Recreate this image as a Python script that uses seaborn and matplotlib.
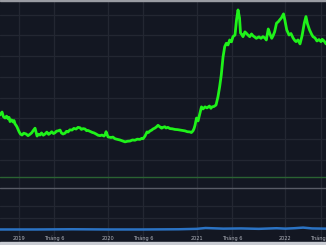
import matplotlib
matplotlib.use("Agg")
import matplotlib.pyplot as plt
from matplotlib.patches import Rectangle
import seaborn as sns
import pandas as pd

# ---- data (decimal years, price in arbitrary units) ----
price_t = [2018.782, 2018.805, 2018.820, 2018.839, 2018.856, 2018.873, 2018.885, 2018.895, 2018.912,
           2018.929, 2018.940, 2018.952, 2018.963, 2018.974, 2018.997, 2019.012, 2019.030, 2019.050,
           2019.076, 2019.098, 2019.121, 2019.140, 2019.154, 2019.177, 2019.200, 2019.215, 2019.233,
           2019.250, 2019.270, 2019.290, 2019.310, 2019.330, 2019.346, 2019.365, 2019.385, 2019.402,
           2019.420, 2019.436, 2019.459, 2019.475, 2019.493, 2019.515, 2019.532, 2019.549, 2019.570,
           2019.594, 2019.615, 2019.640, 2019.662, 2019.685, 2019.700, 2019.719, 2019.741, 2019.758,
           2019.775, 2019.800, 2019.820, 2019.843, 2019.865, 2019.888, 2019.910, 2019.932, 2019.955,
           2019.968, 2019.978, 2020.000, 2020.034, 2020.055, 2020.079, 2020.105, 2020.135, 2020.160,
           2020.192, 2020.220, 2020.248, 2020.275, 2020.304, 2020.330, 2020.361, 2020.380, 2020.395,
           2020.417, 2020.440, 2020.455, 2020.474, 2020.490, 2020.507, 2020.530, 2020.548, 2020.564,
           2020.586, 2020.605, 2020.620, 2020.640, 2020.654, 2020.675, 2020.699, 2020.725, 2020.755,
           2020.785, 2020.812, 2020.840, 2020.868, 2020.895, 2020.924, 2020.940, 2020.958, 2020.970,
           2020.981, 2020.998, 2021.015, 2021.037, 2021.054, 2021.071, 2021.094, 2021.116, 2021.144,
           2021.160, 2021.173, 2021.195, 2021.218, 2021.240, 2021.259, 2021.277, 2021.297, 2021.316,
           2021.334, 2021.353, 2021.372, 2021.392, 2021.409, 2021.432, 2021.449, 2021.466, 2021.483,
           2021.494, 2021.510, 2021.522, 2021.544, 2021.561, 2021.580, 2021.598, 2021.618, 2021.635,
           2021.655, 2021.672, 2021.702, 2021.725, 2021.747, 2021.770, 2021.785, 2021.807, 2021.826,
           2021.846, 2021.862, 2021.879, 2021.900, 2021.920, 2021.936, 2021.956, 2021.979, 2021.996,
           2022.015, 2022.030, 2022.041, 2022.063, 2022.086, 2022.105, 2022.120, 2022.142, 2022.165,
           2022.188, 2022.213, 2022.232, 2022.249, 2022.272, 2022.294, 2022.311, 2022.334, 2022.356,
           2022.379, 2022.401, 2022.415, 2022.430, 2022.445, 2022.458]
price_v = [61.6, 63.0, 60.8, 60.1, 61.0, 59.7, 60.4, 58.4, 59.2,
           58.2, 58.9, 57.2, 56.6, 55.8, 53.5, 52.4, 51.9, 52.8,
           52.4, 51.6, 52.3, 53.0, 53.9, 55.2, 51.4, 52.3, 51.9,
           52.9, 51.8, 52.4, 53.3, 52.2, 52.7, 53.5, 52.6, 53.0,
           53.8, 53.9, 54.3, 52.9, 52.4, 52.8, 53.7, 53.4, 54.4,
           54.3, 55.1, 54.8, 55.6, 55.4, 54.6, 55.0, 54.8, 54.0,
           54.1, 53.6, 53.2, 52.9, 52.4, 51.8, 51.6, 51.9, 51.4,
           52.2, 53.5, 51.0, 50.7, 50.9, 50.1, 49.8, 49.5, 49.1,
           48.6, 48.9, 49.0, 49.5, 49.4, 49.9, 49.8, 50.3, 50.1,
           51.4, 53.4, 53.1, 53.9, 54.2, 54.8, 55.3, 55.9, 56.6,
           55.8, 55.2, 55.6, 55.9, 55.3, 55.6, 55.0, 54.9, 54.6,
           54.5, 54.3, 54.1, 53.9, 53.5, 53.4, 53.1, 53.9, 55.0,
           56.6, 60.1, 58.7, 62.6, 65.5, 64.5, 65.5, 65.0, 65.9,
           64.8, 65.5, 65.7, 66.4, 70.4, 75.3, 80.9, 89.6, 94.6,
           96.2, 95.4, 97.8, 96.9, 99.4, 100.2, 107.5, 112.3, 108.4,
           101.2, 100.3, 99.4, 101.7, 101.0, 100.1, 99.4, 100.7, 99.8,
           99.2, 98.6, 99.3, 98.6, 99.4, 98.7, 97.8, 103.1, 100.7,
           98.6, 99.9, 101.8, 105.9, 106.6, 107.5, 108.5, 110.4, 107.0,
           102.7, 101.3, 100.2, 100.9, 98.8, 97.6, 97.0, 97.8, 95.9,
           99.8, 105.9, 109.1, 105.6, 102.7, 100.7, 99.4, 98.8, 97.3,
           98.0, 97.0, 98.1, 97.6, 96.8, 95.9]

blue_t = [2018.782, 2019.2, 2019.6, 2020.0, 2020.4, 2020.8, 2021.0, 2021.1, 2021.3,
          2021.5, 2021.7, 2021.9, 2022.0, 2022.1, 2022.2, 2022.3, 2022.458]
blue_v = [6.3, 6.3, 6.4, 6.3, 6.3, 6.4, 6.6, 7.0, 6.7,
          6.8, 6.6, 6.9, 6.7, 6.9, 7.2, 6.8, 6.7]

level_green = 31.8
level_gray = 26.2

tick_pos = [2019.0, 2019.396, 2020.0, 2020.396, 2021.0, 2021.396, 2022.0, 2022.396]
tick_lab = ["2019", "Tháng 6", "2020", "Tháng 6", "2021", "Tháng 6", "2022", "Tháng 6"]
grid_levels = [110, 100, 90, 80, 70, 60, 50, 40, 17.6, 12.0]

# ---- style ----
BG = "#131722"
GRID = "#232732"
sns.set_style("dark", {"axes.facecolor": BG, "figure.facecolor": BG})
plt.rcParams["font.family"] = ["DejaVu Sans"]

fig = plt.figure(figsize=(3.26, 2.45), dpi=100)
ax = fig.add_axes([0, 0, 1, 1])
ax.set_facecolor(BG)

for g in grid_levels:
    ax.axhline(g, color=GRID, lw=0.9, zorder=0)
for t in tick_pos:
    ax.axvline(t, color=GRID, lw=0.9, zorder=0)

ax.axhline(level_green, color="#2a6332", lw=1.0, zorder=1)
ax.axhline(level_gray, color="#585b66", lw=1.0, zorder=1)

df_p = pd.DataFrame({"t": price_t, "v": price_v})
df_b = pd.DataFrame({"t": blue_t, "v": blue_v})
sns.lineplot(data=df_b, x="t", y="v", ax=ax, color="#2b73c4", lw=1.8, zorder=2)
sns.lineplot(data=df_p, x="t", y="v", ax=ax, color="#1ff21a", lw=2.0, zorder=3)

ax.set_xlim(2018.782, 2022.458)
ax.set_ylim(-1.2, 117.1)
ax.set_xticks(tick_pos)
ax.set_xticklabels(tick_lab)
ax.set_yticks([])
ax.tick_params(axis="x", direction="in", length=0, pad=-6.6, labelsize=3.6, colors="#b2b5be")
ax.set_xlabel("")
ax.set_ylabel("")
for s in ax.spines.values():
    s.set_visible(False)

fig.add_artist(Rectangle((0, 0), 1, 3 / 245, transform=fig.transFigure, color="#c9ccd3", zorder=10))
fig.add_artist(Rectangle((0, 1 - 1.5 / 245), 1, 1.5 / 245, transform=fig.transFigure, color="#9a9ca3", zorder=10))

fig.savefig("out.png", dpi=100, facecolor=BG)
